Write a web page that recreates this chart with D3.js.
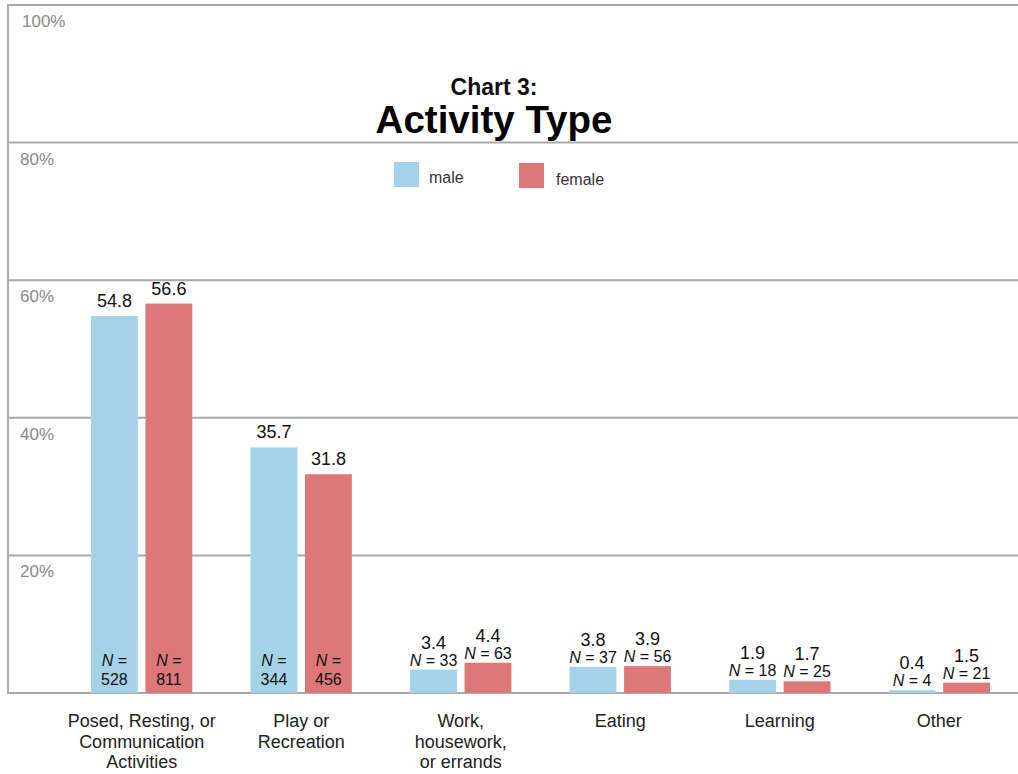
<!DOCTYPE html>
<html>
<head>
<meta charset="utf-8">
<script src="https://cdn.jsdelivr.net/npm/d3@7"></script>
<style>
  html, body { margin: 0; padding: 0; background: #fff; }
  svg { display: block; font-family: "Liberation Sans", Arial, sans-serif; }
</style>
</head>
<body>
<svg id="chart" width="1018" height="774"></svg>
<script>
// ---- data ----
const categories = ["Posed, Resting, or Communication Activities", "Play or Recreation", "Work, housework, or errands", "Eating", "Learning", "Other"];
const categoryLines = [
  ["Posed, Resting, or", "Communication", "Activities"],
  ["Play or", "Recreation"],
  ["Work,", "housework,", "or errands"],
  ["Eating"],
  ["Learning"],
  ["Other"]
];
const series = ["male", "female"];
const maleValues = [54.8, 35.7, 3.4, 3.8, 1.9, 0.4];
const femaleValues = [56.6, 31.8, 4.4, 3.9, 1.7, 1.5];
const maleN = [528, 344, 33, 37, 18, 4];
const femaleN = [811, 456, 63, 56, 25, 21];
const yTicks = [20, 40, 60, 80, 100];
const titleLine1 = "Chart 3:";
const titleLine2 = "Activity Type";

// ---- setup ----
const colors = { male: "#a4d3e9", female: "#de7777" };
const svg = d3.select("#chart");
const W = 1018;

const y = d3.scaleLinear().domain([0, 100]).range([693, 5]);
const x0 = d3.scaleBand().domain(categories).range([91, 990]).paddingInner(0.365).paddingOuter(0);
const x1 = d3.scaleBand().domain(series).range([0, x0.bandwidth()]).paddingInner(0.14);

const rows = categories.map((c, i) => ({
  cat: c, i,
  bars: [
    { s: "male", v: maleValues[i], n: maleN[i] },
    { s: "female", v: femaleValues[i], n: femaleN[i] }
  ]
}));

// gridlines
svg.append("g").selectAll("line").data([0].concat(yTicks)).join("line")
  .attr("x1", 8).attr("x2", W)
  .attr("y1", d => y(d)).attr("y2", d => y(d))
  .attr("stroke", "#aaaaaa").attr("stroke-width", 2);

// left axis line
svg.append("line").attr("x1", 8).attr("x2", 8).attr("y1", y(100) - 1).attr("y2", y(0) + 1)
  .attr("stroke", "#aaaaaa").attr("stroke-width", 2);

// tick labels
svg.append("g").selectAll("text").data(yTicks).join("text")
  .attr("x", d => d === 100 ? 22 : 20)
  .attr("y", d => y(d) + 22)
  .attr("font-size", 17).attr("fill", "#8a8a8a")
  .text(d => d + "%");

// title
svg.append("text").attr("x", 494).attr("y", 95).attr("text-anchor", "middle")
  .attr("font-size", 23).attr("font-weight", "bold").attr("fill", "#111").text(titleLine1);
svg.append("text").attr("x", 494).attr("y", 133).attr("text-anchor", "middle")
  .attr("font-size", 38.5).attr("font-weight", "bold").attr("fill", "#000").text(titleLine2);

// legend
const legend = svg.append("g");
const legendPos = [{ s: "male", x: 394, y: 162, tx: 429, ty: 183 }, { s: "female", x: 519, y: 163, tx: 556, ty: 185 }];
legend.selectAll("rect").data(legendPos).join("rect")
  .attr("x", d => d.x).attr("y", d => d.y).attr("width", 25).attr("height", 25)
  .attr("fill", d => colors[d.s]);
legend.selectAll("text").data(legendPos).join("text")
  .attr("x", d => d.tx).attr("y", d => d.ty)
  .attr("font-size", 16).attr("fill", "#333").text(d => d.s);

// bars
const groups = svg.append("g").selectAll("g").data(rows).join("g")
  .attr("transform", d => `translate(${x0(d.cat)},0)`);

groups.selectAll("rect").data(d => d.bars).join("rect")
  .attr("x", d => x1(d.s)).attr("width", x1.bandwidth())
  .attr("y", d => y(d.v)).attr("height", d => y(0) - y(d.v))
  .attr("fill", d => colors[d.s]);

// value labels
groups.selectAll("text.val").data(d => d.bars).join("text")
  .attr("class", "val")
  .attr("x", d => x1(d.s) + x1.bandwidth() / 2)
  .attr("y", d => d.v > 10 ? y(d.v) - 9 : y(d.v) - 21)
  .attr("text-anchor", "middle").attr("font-size", 18).attr("fill", "#111")
  .text(d => d.v.toFixed(1));

// N labels
groups.each(function(row) {
  const g = d3.select(this);
  row.bars.forEach(b => {
    const cx = x1(b.s) + x1.bandwidth() / 2;
    if (b.v > 10) {
      const t1 = g.append("text").attr("x", cx).attr("y", y(0) - 27)
        .attr("text-anchor", "middle").attr("font-size", 16).attr("fill", "#111");
      t1.append("tspan").attr("font-style", "italic").text("N");
      t1.append("tspan").text(" =");
      g.append("text").attr("x", cx).attr("y", y(0) - 8)
        .attr("text-anchor", "middle").attr("font-size", 16).attr("fill", "#111")
        .text(b.n);
    } else {
      const t = g.append("text").attr("x", cx).attr("y", y(b.v) - 4)
        .attr("text-anchor", "middle").attr("font-size", 16).attr("fill", "#111");
      t.append("tspan").attr("font-style", "italic").text("N");
      t.append("tspan").text(" = " + b.n);
    }
  });
});

// category labels
groups.append("text")
  .attr("text-anchor", "middle").attr("font-size", 18).attr("fill", "#222")
  .selectAll("tspan").data(d => categoryLines[d.i]).join("tspan")
  .attr("x", x0.bandwidth() / 2)
  .attr("y", (d, i) => 727 + i * 20.5)
  .text(d => d);
</script>
</body>
</html>
